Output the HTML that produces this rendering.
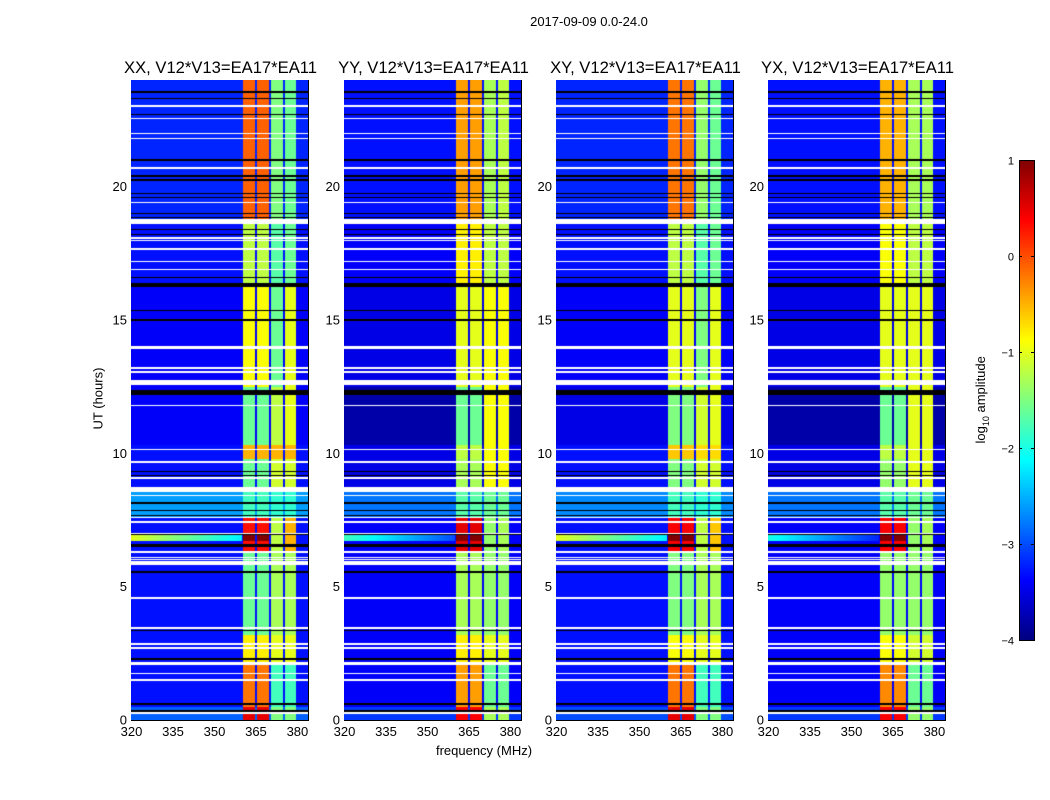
<!DOCTYPE html>
<html><head><meta charset="utf-8"><style>
body{margin:0;background:#fff;width:1050px;height:800px;position:relative;overflow:hidden;font-family:"Liberation Sans",sans-serif;color:#000}
.t{position:absolute;white-space:nowrap}
canvas{position:absolute}
</style></head><body>
<div class="t" style="left:489px;top:14px;width:200px;text-align:center;font-size:13px">2017-09-09 0.0-24.0</div>
<div class="t" style="left:48px;top:391px;width:100px;text-align:center;font-size:13px;transform:rotate(-90deg)">UT (hours)</div>
<div class="t" style="left:384px;top:743px;width:200px;text-align:center;font-size:13px">frequency (MHz)</div>
<div class="t" style="left:922px;top:391px;width:120px;text-align:center;font-size:13px;transform:rotate(-90deg)">log<sub style="font-size:9px">10</sub> amplitude</div>
<svg id="ov" width="1050" height="800" style="position:absolute;left:0;top:0"></svg>
<script>
// ---- data ----
const panelTitles=["XX, V12*V13=EA17*EA11","YY, V12*V13=EA17*EA11","XY, V12*V13=EA17*EA11","YX, V12*V13=EA17*EA11"];
const xTicks=[320,335,350,365,380];
const yTicks=[0,5,10,15,20];
const cbTicks=[1,0,-1,-2,-3,-4];
const segEdges=[0,0.5,2.1,3.2,6.3,7.6,8.7,9.8,10.3,12.5,16.3,18.7,24];
// band order: background, 360-365, 365-370, 370-375, 375-380
const levelsXX=[[-2.9,0.5,0.5,-1.5,-1.5],[-3.3,-0.2,-0.2,-1.8,-1.8],[-3.3,-0.8,-0.8,-1.0,-1.0],[-3.3,-1.6,-1.6,-1.3,-1.3],[-3.3,0.3,0.3,-1.2,-0.5],[-2.6,-1.8,-1.8,-1.9,-1.9],[-3.3,-1.6,-1.6,-1.1,-1.1],[-3.3,-0.5,-0.5,-0.5,-0.5],[-3.4,-1.6,-1.6,-1.2,-1.0],[-3.4,-0.9,-0.9,-1.6,-1.0],[-3.3,-1.2,-1.2,-1.7,-1.6],[-3.2,-0.1,-0.1,-1.5,-1.6]];
const levelsYY=[[-3.1,0.4,0.4,-1.3,-1.3],[-3.4,-0.4,-0.4,-1.6,-1.6],[-3.4,-0.8,-0.8,-1.0,-1.0],[-3.4,-1.3,-1.3,-1.4,-1.4],[-3.4,0.5,0.5,-1.4,-1.3],[-2.8,-1.7,-1.7,-1.6,-1.6],[-3.5,-1.3,-1.3,-0.9,-0.9],[-3.5,-1.2,-1.2,-0.9,-0.9],[-3.8,-1.6,-1.6,-0.9,-0.9],[-3.5,-1.0,-1.0,-0.9,-0.9],[-3.4,-0.8,-0.8,-1.2,-1.2],[-3.3,-0.4,-0.4,-1.3,-1.2]];
const levelsXY=[[-3.0,0.5,0.5,-1.5,-1.5],[-3.3,-0.2,-0.2,-1.8,-1.8],[-3.3,-0.9,-0.9,-1.0,-1.0],[-3.3,-1.5,-1.5,-1.3,-1.3],[-3.3,0.4,0.4,-1.2,-0.6],[-2.7,-1.8,-1.8,-1.9,-1.9],[-3.3,-1.5,-1.5,-1.1,-1.1],[-3.3,-0.6,-0.6,-0.7,-0.7],[-3.5,-1.5,-1.5,-1.1,-1.0],[-3.4,-1.0,-1.0,-1.5,-1.0],[-3.3,-1.2,-1.2,-1.7,-1.6],[-3.2,-0.2,-0.2,-1.4,-1.6]];
const levelsYX=[[-3.1,0.4,0.4,-1.4,-1.4],[-3.4,-0.3,-0.3,-1.6,-1.6],[-3.4,-0.9,-0.9,-1.1,-1.1],[-3.4,-1.4,-1.4,-1.4,-1.4],[-3.4,0.4,0.4,-1.4,-1.3],[-2.8,-1.7,-1.7,-1.6,-1.6],[-3.5,-1.4,-1.4,-1.0,-1.0],[-3.5,-1.2,-1.2,-1.0,-1.0],[-3.8,-1.6,-1.6,-1.0,-1.0],[-3.5,-1.0,-1.0,-1.0,-1.0],[-3.4,-0.9,-0.9,-1.2,-1.2],[-3.3,-0.5,-0.5,-1.3,-1.3]];
const bandLo=[360.6,365.6,370.6,375.6];
const bandHi=[364.8,370.0,374.9,379.7];
const whiteRows=[23.03,22.55,22.0,21.8,20.7,19.4,18.07,17.97,17.66,17.2,16.9,14.0,13.95,13.2,13.05,11.8,10.15,9.67,9.07,8.43,7.6,7.42,7.0,6.3,6.1,6.03,5.92,5.85,4.57,3.45,2.85,2.7,1.75,1.5,0.26];
const whiteBlocks=[[18.6,18.8],[12.55,12.75],[8.55,8.74],[2.05,2.17]];
const blackRows=[23.55,23.3,22.7,21.0,20.4,20.25,19.75,19.6,19.0,18.85,18.4,18.2,16.6,15.35,15.0,9.33,9.18,8.14,7.87,7.68,6.97,6.56,6.5,5.55,3.37,2.29,0.6,0.34];
const blackBlocks=[[16.25,16.4],[12.2,12.38]];
const hotRows=[[6.72,6.92,-1.0],[6.72,6.92,-1.8],[6.72,6.92,-1.0],[6.72,6.92,-2.0]];
const allLevels=[levelsXX,levelsYY,levelsXY,levelsYX];
const panelLeft=[131,344,556,768];
// ---- scales ----
const PW=177,PH=640,PT=80,F0=320,F1=384;
const xs=(f,i)=>panelLeft[i]+(f-F0)/(F1-F0)*PW;
const ys=h=>PT+PH-h/24*PH;
function jet(v){let t=(v+4)/5;t=Math.max(0,Math.min(1,t));const c=x=>Math.round(255*Math.max(0,Math.min(1,x)));return [c(1.5-Math.abs(4*t-3)),c(1.5-Math.abs(4*t-2)),c(1.5-Math.abs(4*t-1))];}
const NS="http://www.w3.org/2000/svg";
const ov=document.getElementById('ov');
function sv(tag,at,parent){const e=document.createElementNS(NS,tag);for(const k in at)e.setAttribute(k,at[k]);(parent||ov).appendChild(e);return e;}
function rowType(h){
  for(const [a,b] of whiteBlocks) if(h>=a&&h<=b) return 'w';
  for(const [a,b] of blackBlocks) if(h>=a&&h<=b) return 'k';
  for(const c of whiteRows) if(Math.abs(h-c)<0.025) return 'w';
  for(const c of blackRows) if(Math.abs(h-c)<0.022) return 'k';
  return null;
}
for(let i=0;i<4;i++){
  const cv=document.createElement('canvas');
  cv.width=PW;cv.height=PH;
  cv.style.left=panelLeft[i]+'px';cv.style.top=PT+'px';
  
  
  document.body.appendChild(cv);
  const ctx=cv.getContext('2d');const img=ctx.createImageData(PW,PH);
  const lv=allLevels[i];
  for(let y=0;y<PH;y++){
    const h=24-(y+0.5)/PH*24;
    const rt=rowType(h);
    let s=0;while(s<segEdges.length-2&&h>segEdges[s+1])s++;
    const L=lv[s];
    const hot=hotRows[i];
    for(let x=0;x<PW;x++){
      let r,g,b;
      if(rt==='w'){r=g=b=255;}
      else if(rt==='k'){r=g=b=0;}
      else{
        const f=F0+(x+0.5)/PW*(F1-F0);
        let v=L[0];
        for(let k=0;k<4;k++) if(f>=bandLo[k]&&f<=bandHi[k]) v=L[k+1];
        if(h>=hot[0]&&h<=hot[1]){ if(f<360) v=Math.max(v,hot[2]-(f-320)/40*1.2); else if(v>-0.5) v=1; }
        [r,g,b]=jet(v);
      }
      const o=(y*PW+x)*4;img.data[o]=r;img.data[o+1]=g;img.data[o+2]=b;img.data[o+3]=255;
    }
  }
  ctx.putImageData(img,0,0);
}
// axes overlay
for(let i=0;i<4;i++){
  const g=sv('g',{});
  
  
  const L=panelLeft[i];
  sv('rect',{x:L+0.5,y:PT+0.5,width:PW,height:PH,fill:'none',stroke:'#000','stroke-width':1},g);
  const tt=sv('text',{x:L+PW/2+1,y:PT-7,'text-anchor':'middle','font-size':16.6,'font-family':'Liberation Sans'},g);
  tt.textContent=panelTitles[i];
  
  
  for(const f of xTicks){const x=xs(f,i)+0.5;
    sv('line',{x1:x,x2:x,y1:PT,y2:PT+4,stroke:'#000'},g);
    sv('line',{x1:x,x2:x,y1:PT+PH,y2:PT+PH-4,stroke:'#000'},g);
    const t=sv('text',{x:x,y:PT+PH+16,'text-anchor':'middle','font-size':13,'font-family':'Liberation Sans'},g);t.textContent=f;
    
    }
  for(const h of yTicks){const y=ys(h)+0.5;
    sv('line',{x1:L,x2:L+4,y1:y,y2:y,stroke:'#000'},g);
    sv('line',{x1:L+PW,x2:L+PW-4,y1:y,y2:y,stroke:'#000'},g);
    const t=sv('text',{x:L-4,y:y+4,'text-anchor':'end','font-size':13,'font-family':'Liberation Sans'},g);t.textContent=h;
    
    }
}
// colorbar
const cb=sv('g',{});


const CX=1019,CW=15,CT=160,CH=480;
for(let y=0;y<CH;y++){const v=1-(y+0.5)/CH*5;const [r,g,b]=jet(v);
  sv('rect',{x:CX,y:CT+y,width:CW,height:1.2,fill:`rgb(${r},${g},${b})`},cb);}
sv('rect',{x:CX+0.5,y:CT+0.5,width:CW,height:CH,fill:'none',stroke:'#000'},cb);
for(const v of cbTicks){const y=CT+(1-v)/5*CH+0.5;
  sv('line',{x1:CX,x2:CX+3,y1:y,y2:y,stroke:'#000'},cb);
  sv('line',{x1:CX+CW,x2:CX+CW-3,y1:y,y2:y,stroke:'#000'},cb);
  const t=sv('text',{x:CX-5,y:y+4,'text-anchor':'end','font-size':11,'font-family':'Liberation Sans'},cb);
  t.textContent=v<0?'\u2212'+(-v):String(v);
  
  }
</script>
</body></html>
